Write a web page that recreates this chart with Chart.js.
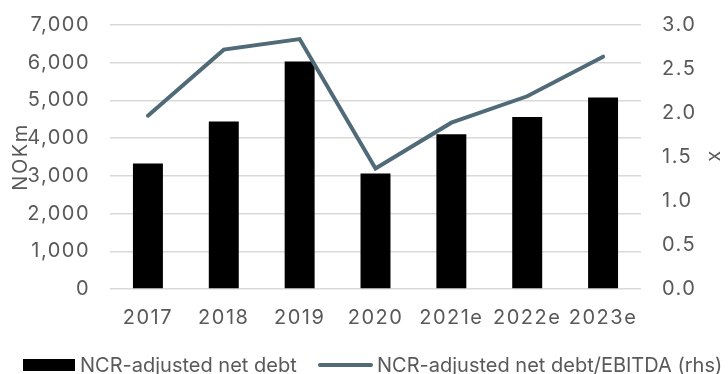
<!DOCTYPE html>
<html>
<head>
<meta charset="utf-8">
<script src="https://cdn.jsdelivr.net/npm/chart.js@4"></script>
<style>
  html, body { margin: 0; padding: 0; background: #fff; }
  #wrap { position: relative; width: 728px; height: 374px; }
  #legend {
    position: absolute; left: 23px; top: 353px; width: 705px; height: 24px;
    font-family: Inter, "Noto Sans", sans-serif; font-size: 20px; line-height: 24px;
    color: #595959; white-space: nowrap;
  }
  #legend .item { position: absolute; top: 0; display: flex; align-items: center; }
  #legend .item:nth-child(1) { left: 0; }
  #legend .item:nth-child(2) { left: 295px; }
  #legend .box { width: 52px; height: 12px; margin-right: 5px; }
  #legend .line { width: 55px; height: 4px; border-radius: 2px; margin-right: 4px; }
</style>
</head>
<body>
<div id="wrap">
  <canvas id="myChart" width="728" height="374"></canvas>
  <div id="legend"></div>
</div>
<script>
// years on the x axis
const years = ['2017', '2018', '2019', '2020', '2021e', '2022e', '2023e'];
// NCR-adjusted net debt, NOKm (bars, left axis)
const netDebt = [3330, 4440, 6030, 3060, 4100, 4560, 5080];
// net debt / EBITDA, x (line, right axis)
const leverage = [1.97, 2.72, 2.84, 1.37, 1.89, 2.19, 2.64];
// tick values on both axes
const debtTicks = [0, 1000, 2000, 3000, 4000, 5000, 6000, 7000];
const leverageTicks = [0, 0.5, 1.0, 1.5, 2.0, 2.5, 3.0];

const grey = '#595959';
const slate = '#506a78';
const fontFamily = 'Inter, "Noto Sans", sans-serif';
const font = { family: fontFamily, size: 20 };

// axis text is set a little wider than the font's default spacing
const axisSpacing = {
    id: 'axisSpacing',
    beforeDraw: chart => { chart.ctx.letterSpacing = '1.5px'; },
    beforeDatasetsDraw: chart => { chart.ctx.letterSpacing = '0px'; }
};

// no extra room above/below the plot for the end labels
const noEndPadding = s => { s.paddingTop = 0; s.paddingBottom = 0; };

window.onload = function () {
    const ctx = document.getElementById('myChart').getContext('2d');
    const chart = new Chart(ctx, {
        data: {
            labels: years,
            datasets: [{
                type: 'bar',
                label: 'NCR-adjusted net debt',
                data: netDebt,
                backgroundColor: '#000000',
                borderWidth: 0,
                barPercentage: 0.395,
                categoryPercentage: 1,
                yAxisID: 'y',
                order: 1
            }, {
                type: 'line',
                label: 'NCR-adjusted net debt/EBITDA (rhs)',
                data: leverage,
                borderColor: slate,
                backgroundColor: slate,
                borderWidth: 4,
                borderCapStyle: 'round',
                borderJoinStyle: 'miter',
                tension: 0,
                pointRadius: 0,
                yAxisID: 'y1',
                order: 0
            }]
        },
        plugins: [axisSpacing],
        options: {
            responsive: false,
            animation: false,
            layout: { padding: { top: 25, left: 21, right: 0, bottom: 35 } },
            plugins: {
                tooltip: { enabled: false },
                legend: { display: false }
            },
            scales: {
                x: {
                    grid: { display: false, drawTicks: false },
                    border: { display: false },
                    ticks: { color: grey, font: font, padding: 17 },
                    afterFit: s => { s.height = 50; }
                },
                y: {
                    position: 'left',
                    min: 0,
                    max: 7000,
                    grid: { color: '#d9d9d9', lineWidth: 1.5, drawTicks: false },
                    border: { display: false },
                    ticks: {
                        color: grey,
                        font: font,
                        padding: 20,
                        callback: v => v.toLocaleString('en-US')
                    },
                    afterBuildTicks: s => { s.ticks = debtTicks.map(v => ({ value: v })); },
                    afterFit: s => { s.width = 89; noEndPadding(s); },
                    title: {
                        display: true,
                        text: 'NOKm',
                        color: grey,
                        font: font,
                        padding: { top: -12 }
                    }
                },
                y1: {
                    position: 'right',
                    min: 0,
                    max: 3,
                    grid: { display: false, drawTicks: false },
                    border: { display: false },
                    ticks: {
                        color: grey,
                        font: font,
                        padding: 21,
                        callback: v => v.toFixed(1)
                    },
                    afterBuildTicks: s => { s.ticks = leverageTicks.map(v => ({ value: v })); },
                    afterFit: s => { s.width = 87; noEndPadding(s); },
                    title: {
                        display: true,
                        text: 'x',
                        color: grey,
                        font: font,
                        padding: { top: 1 }
                    }
                }
            }
        }
    });

    // legend below the plot, one entry per dataset
    const legend = document.getElementById('legend');
    chart.data.datasets.forEach(ds => {
        const item = document.createElement('span');
        item.className = 'item';
        const key = document.createElement('span');
        key.className = ds.type === 'bar' ? 'box' : 'line';
        key.style.background = ds.type === 'bar' ? ds.backgroundColor : ds.borderColor;
        item.appendChild(key);
        item.appendChild(document.createTextNode(ds.label));
        legend.appendChild(item);
    });
}
</script>
</body>
</html>
